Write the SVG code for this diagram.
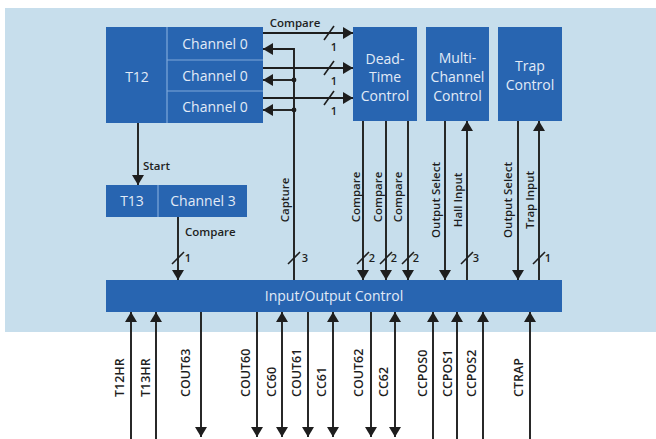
<svg xmlns="http://www.w3.org/2000/svg" width="656" height="439" viewBox="0 0 656 439">
<defs>
<marker id="ah" viewBox="0 0 10 12" refX="10" refY="6" markerWidth="10" markerHeight="12" markerUnits="userSpaceOnUse" orient="auto-start-reverse"><path d="M0,0 L10,6 L0,12 z" fill="#1e1e1e"/></marker>
</defs>
<style>
.blk{fill:#2865b1}
.div{stroke:#7ea8da;stroke-width:1.2}
.bt{font-family:"Open Sans","Liberation Sans",sans-serif;font-size:14px;font-weight:500;fill:#e2ebf7;text-anchor:middle}
.ln{stroke:#1e1e1e;stroke-width:1.9;fill:none}
.arr{marker-end:url(#ah)}
.bi{marker-start:url(#ah);marker-end:url(#ah)}
.sl{stroke:#1e1e1e;stroke-width:1.6}
.lb{font-family:"Open Sans","Liberation Sans",sans-serif;font-size:11.5px;font-weight:600;fill:#1e1e1e}
.num{font-family:"Open Sans","Liberation Sans",sans-serif;font-size:11px;font-weight:600;fill:#1e1e1e;text-anchor:middle}
.pin{font-family:"Open Sans","Liberation Sans",sans-serif;font-size:12.5px;font-weight:600;fill:#1e1e1e}
.vc{text-anchor:middle}
</style>
<rect x="5" y="8" width="651" height="324" fill="#c7deec"/>

<g id="T12">
<rect class="blk" x="106" y="27" width="157" height="96"/>
<line class="div" x1="167" y1="27" x2="167" y2="123"/>
<line class="div" x1="167" y1="60" x2="263" y2="60"/>
<line class="div" x1="167" y1="91" x2="263" y2="91"/>
<text class="bt" x="137" y="82">T12</text>
<text class="bt" x="215" y="49">Channel 0</text>
<text class="bt" x="215" y="81">Channel 0</text>
<text class="bt" x="215" y="112">Channel 0</text>
</g>

<g id="T13">
<rect class="blk" x="106" y="185" width="141" height="32"/>
<line class="div" x1="158" y1="185" x2="158" y2="217"/>
<text class="bt" x="132" y="206">T13</text>
<text class="bt" x="203" y="206">Channel 3</text>
</g>

<g id="deadtime">
<rect class="blk" x="353" y="27" width="64" height="94"/>
<text class="bt" x="385" y="64">Dead-</text>
<text class="bt" x="385" y="82">Time</text>
<text class="bt" x="385" y="101">Control</text>
</g>

<g id="multichannel">
<rect class="blk" x="426" y="27" width="63" height="94"/>
<text class="bt" x="457.5" y="63">Multi-</text>
<text class="bt" x="457.5" y="82">Channel</text>
<text class="bt" x="457.5" y="101">Control</text>
</g>

<g id="trap">
<rect class="blk" x="498" y="27" width="64" height="94"/>
<text class="bt" x="530" y="71">Trap</text>
<text class="bt" x="530" y="90">Control</text>
</g>

<g id="io">
<rect class="blk" x="106" y="280" width="456" height="32"/>
<text class="bt" x="334" y="301">Input/Output Control</text>
</g>

<g id="connectors">
<line class="ln arr" x1="263" y1="33" x2="353" y2="33"/>
<line class="ln arr" x1="263" y1="68" x2="353" y2="68"/>
<line class="ln arr" x1="263" y1="98" x2="353" y2="98"/>
<line class="sl" x1="324" y1="40" x2="334" y2="26"/>
<line class="sl" x1="324" y1="75" x2="334" y2="61"/>
<line class="sl" x1="324" y1="105" x2="334" y2="91"/>
<path class="ln arr" d="M294,280 V49 H263"/>
<line class="ln arr" x1="294" y1="80" x2="263" y2="80"/>
<line class="ln arr" x1="294" y1="110" x2="263" y2="110"/>
<circle cx="294" cy="80" r="2.4" fill="#1e1e1e"/>
<circle cx="294" cy="110" r="2.4" fill="#1e1e1e"/>
<line class="ln arr" x1="138" y1="123" x2="138" y2="185"/>
<line class="ln arr" x1="178" y1="217" x2="178" y2="280"/>
<line class="ln arr" x1="363" y1="121" x2="363" y2="280"/>
<line class="ln arr" x1="386" y1="121" x2="386" y2="280"/>
<line class="ln arr" x1="408" y1="121" x2="408" y2="280"/>
<line class="ln arr" x1="445" y1="121" x2="445" y2="280"/>
<line class="ln arr" x1="467" y1="280" x2="467" y2="121"/>
<line class="ln arr" x1="518" y1="121" x2="518" y2="280"/>
<line class="ln arr" x1="539" y1="280" x2="539" y2="121"/>
<line class="sl" x1="172" y1="264" x2="184" y2="252"/>
<line class="sl" x1="288" y1="264" x2="300" y2="252"/>
<line class="sl" x1="357" y1="264" x2="369" y2="252"/>
<line class="sl" x1="380" y1="264" x2="392" y2="252"/>
<line class="sl" x1="402" y1="264" x2="414" y2="252"/>
<line class="sl" x1="461" y1="264" x2="473" y2="252"/>
<line class="sl" x1="533" y1="264" x2="545" y2="252"/>
<line class="ln arr" x1="131" y1="439" x2="131" y2="312"/>
<line class="ln arr" x1="156" y1="439" x2="156" y2="312"/>
<line class="ln arr" x1="201" y1="312" x2="201" y2="437"/>
<line class="ln arr" x1="257" y1="312" x2="257" y2="437"/>
<line class="ln bi" x1="282" y1="312" x2="282" y2="437"/>
<line class="ln arr" x1="308" y1="312" x2="308" y2="437"/>
<line class="ln bi" x1="333" y1="312" x2="333" y2="437"/>
<line class="ln arr" x1="371" y1="312" x2="371" y2="437"/>
<line class="ln bi" x1="395" y1="312" x2="395" y2="437"/>
<line class="ln arr" x1="433" y1="439" x2="433" y2="312"/>
<line class="ln arr" x1="457" y1="439" x2="457" y2="312"/>
<line class="ln arr" x1="483" y1="439" x2="483" y2="312"/>
<line class="ln arr" x1="530" y1="439" x2="530" y2="312"/>
</g>

<g id="labels">
<text class="lb vc" x="295" y="27">Compare</text>
<text class="num" x="334" y="51">1</text>
<text class="num" x="334" y="85">1</text>
<text class="num" x="334" y="115">1</text>
<text class="lb" x="143" y="170">Start</text>
<text class="lb" x="185" y="236">Compare</text>
<text class="num" x="188" y="262">1</text>
<text class="num" x="305" y="262">3</text>
<text class="num" x="372" y="262">2</text>
<text class="num" x="394" y="262">2</text>
<text class="num" x="416" y="262">2</text>
<text class="num" x="476" y="262">3</text>
<text class="num" x="548" y="262">1</text>
<text class="lb vc" transform="translate(289,200) rotate(-90)">Capture</text>
<text class="lb vc" transform="translate(360,197) rotate(-90)">Compare</text>
<text class="lb vc" transform="translate(382,197) rotate(-90)">Compare</text>
<text class="lb vc" transform="translate(402,197) rotate(-90)">Compare</text>
<text class="lb vc" transform="translate(440,200) rotate(-90)">Output Select</text>
<text class="lb vc" transform="translate(462,200) rotate(-90)">Hall Input</text>
<text class="lb vc" transform="translate(512,200) rotate(-90)">Output Select</text>
<text class="lb vc" transform="translate(534,200) rotate(-90)">Trap Input</text>
<text class="pin" transform="translate(124,397) rotate(-90)">T12HR</text>
<text class="pin" transform="translate(150,397) rotate(-90)">T13HR</text>
<text class="pin" transform="translate(190,397) rotate(-90)">COUT63</text>
<text class="pin" transform="translate(250,397) rotate(-90)">COUT60</text>
<text class="pin" transform="translate(276,397) rotate(-90)">CC60</text>
<text class="pin" transform="translate(301,397) rotate(-90)">COUT61</text>
<text class="pin" transform="translate(326,397) rotate(-90)">CC61</text>
<text class="pin" transform="translate(363,397) rotate(-90)">COUT62</text>
<text class="pin" transform="translate(388,397) rotate(-90)">CC62</text>
<text class="pin" transform="translate(427,397) rotate(-90)">CCPOS0</text>
<text class="pin" transform="translate(452,397) rotate(-90)">CCPOS1</text>
<text class="pin" transform="translate(476,397) rotate(-90)">CCPOS2</text>
<text class="pin" transform="translate(523,397) rotate(-90)">CTRAP</text>
</g>
</svg>
